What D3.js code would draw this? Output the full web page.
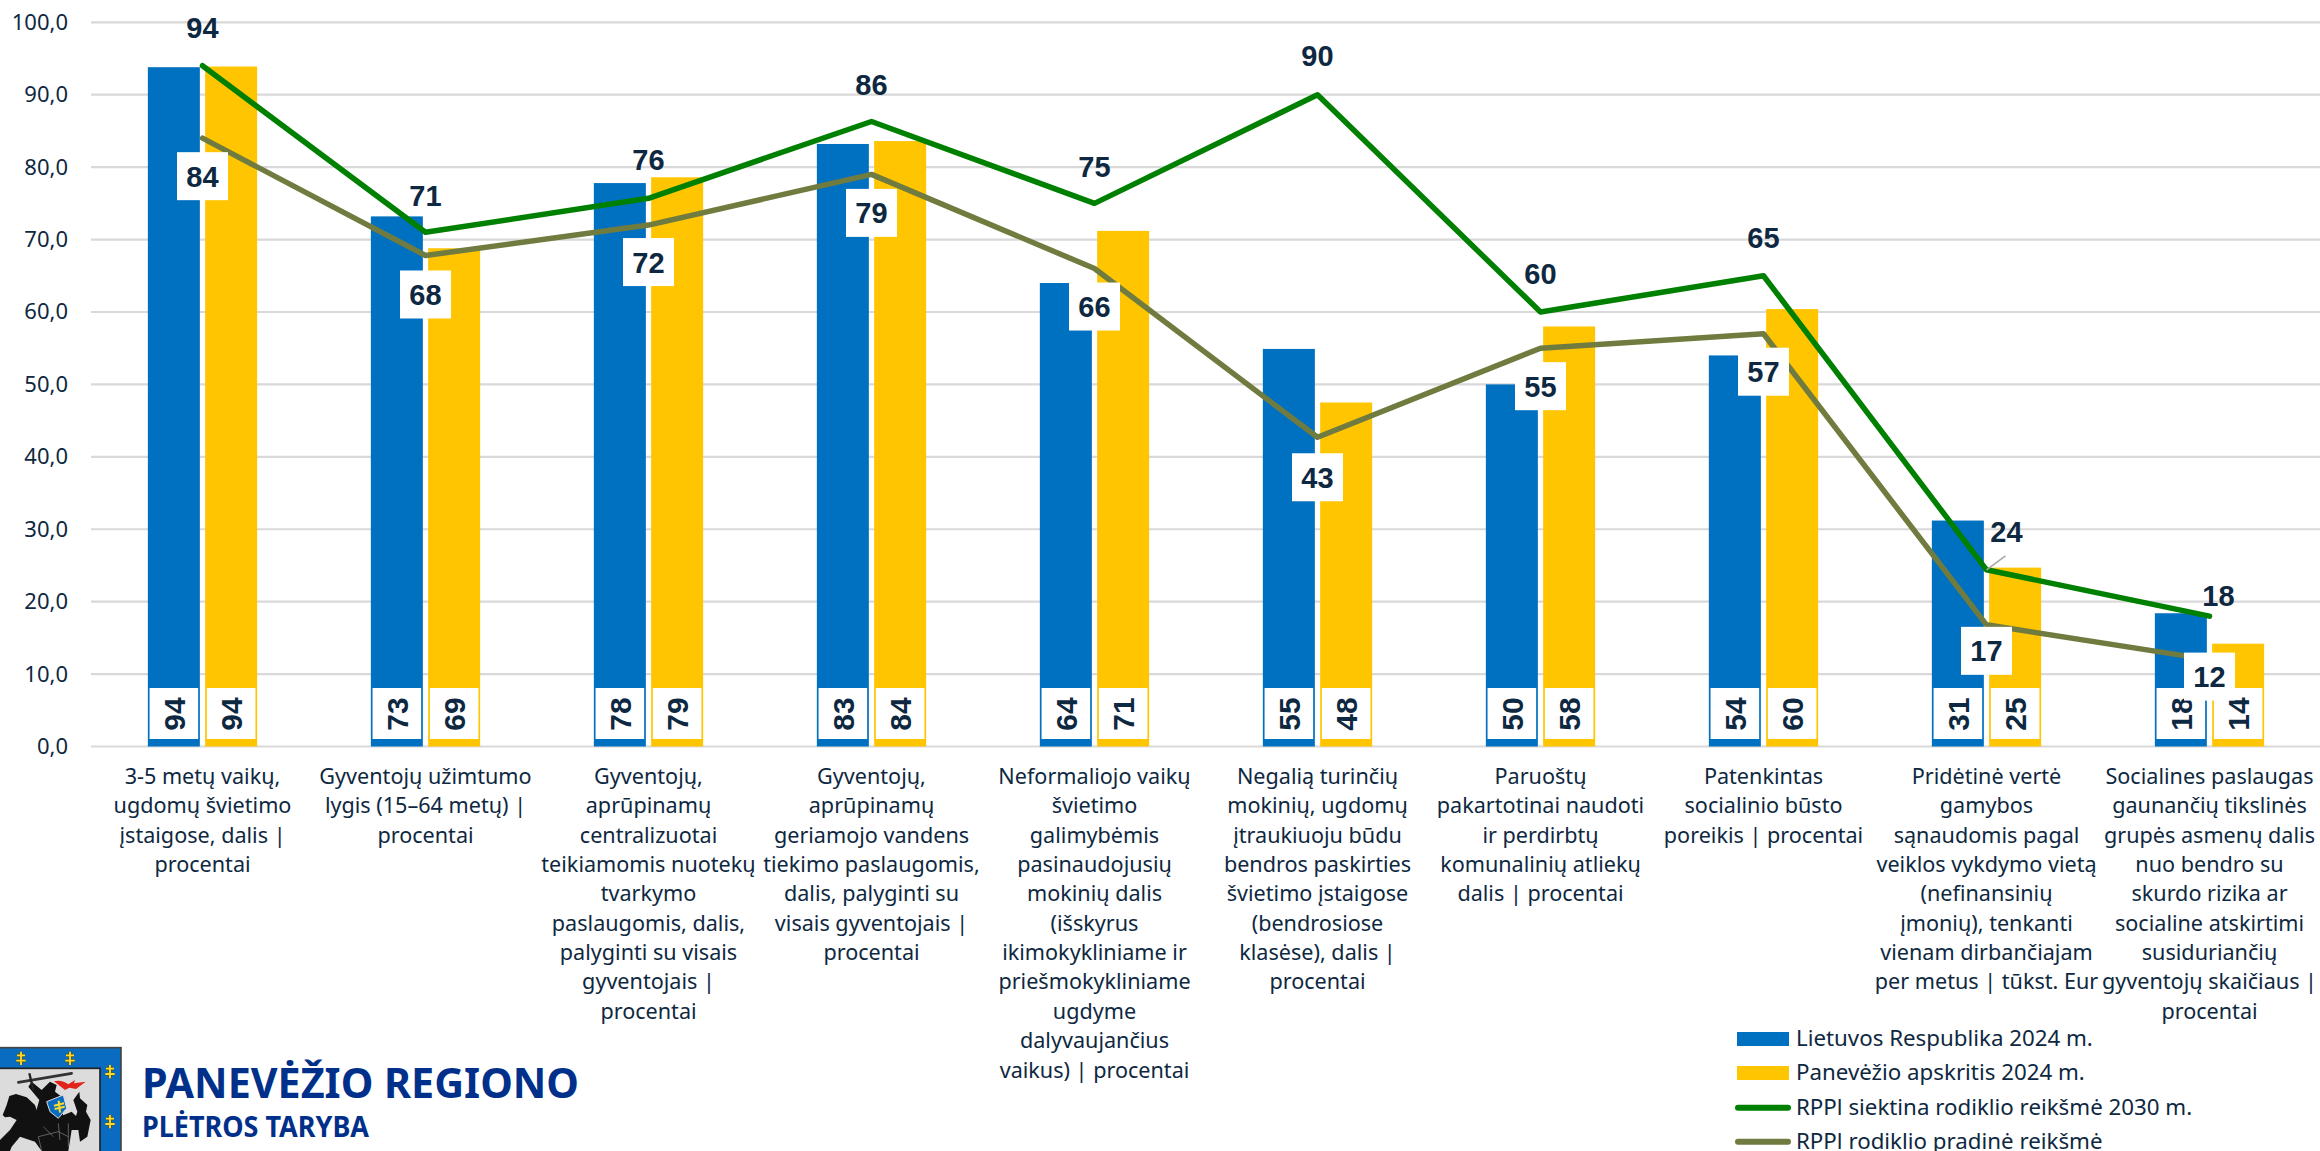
<!DOCTYPE html>
<html><head><meta charset="utf-8">
<script src="https://cdn.jsdelivr.net/npm/d3@7"></script>
<style>html,body{margin:0;padding:0;background:#fff}svg{display:block}text{font-family:"Noto Sans",sans-serif;fill:#0e2841}.b{font-family:"Liberation Sans",Arial,sans-serif;font-weight:700}</style>
</head><body><svg id="c" width="2320" height="1151"></svg>
<script>
const categories = [
 ["3-5 metų vaikų,","ugdomų švietimo","įstaigose, dalis |","procentai"],
 ["Gyventojų užimtumo","lygis (15–64 metų) |","procentai"],
 ["Gyventojų,","aprūpinamų","centralizuotai","teikiamomis nuotekų","tvarkymo","paslaugomis, dalis,","palyginti su visais","gyventojais |","procentai"],
 ["Gyventojų,","aprūpinamų","geriamojo vandens","tiekimo paslaugomis,","dalis, palyginti su","visais gyventojais |","procentai"],
 ["Neformaliojo vaikų","švietimo","galimybėmis","pasinaudojusių","mokinių dalis","(išskyrus","ikimokykliniame ir","priešmokykliniame","ugdyme","dalyvaujančius","vaikus) | procentai"],
 ["Negalią turinčių","mokinių, ugdomų","įtraukiuoju būdu","bendros paskirties","švietimo įstaigose","(bendrosiose","klasėse), dalis |","procentai"],
 ["Paruoštų","pakartotinai naudoti","ir perdirbtų","komunalinių atliekų","dalis | procentai"],
 ["Patenkintas","socialinio būsto","poreikis | procentai"],
 ["Pridėtinė vertė","gamybos","sąnaudomis pagal","veiklos vykdymo vietą","(nefinansinių","įmonių), tenkanti","vienam dirbančiajam","per metus | tūkst. Eur"],
 ["Socialines paslaugas","gaunančių tikslinės","grupės asmenų dalis","nuo bendro su","skurdo rizika ar","socialine atskirtimi","susiduriančių","gyventojų skaičiaus |","procentai"]
];
const lietuva   = [93.8,73.2,77.8,83.2,64,54.9,50,54,31.2,18.4];
const panevezys = [93.9,68.8,78.6,83.6,71.2,47.5,58,60.4,24.7,14.2];
const siektina  = [94,71,75.7,86.3,75,90,60,65,24.4,18];
const pradine   = [84,67.8,72,79,66,42.7,55,57,16.8,12];
const yTicks = [0,10,20,30,40,50,60,70,80,90,100];
const legendItems = ["Lietuvos Respublika 2024 m.","Panevėžio apskritis 2024 m.","RPPl siektina rodiklio reikšmė 2030 m.","RPPl rodiklio pradinė reikšmė"];
const targetLabelDx = [0,0,0,0,0,0,0,0,20,9];
const targetLabelDy = [-38,-37,-39,-37,-37,-39,-38,-38,-38,-21];
const startLabelDy  = [38,39,37,38.5,38,40,38,38,26,17];

const colors={blue:"#0070c0",yellow:"#ffc500",green:"#008000",olive:"#707c3f",grid:"#d9d9d9",title:"#00308a"};
const svg=d3.select("#c");
const x=d3.scaleBand().domain(d3.range(10)).range([91,2321]);
const y=d3.scaleLinear().domain([0,100]).range([746.5,22.3]);
const BW=52,GAP=5.3;
const cx=i=>x(i)+x.bandwidth()/2;
const fmt=v=>d3.format(".1f")(v).replace(".",",");

svg.append("g").selectAll("line").data(yTicks).join("line")
 .attr("x1",91).attr("x2",2320).attr("y1",d=>y(d)).attr("y2",d=>y(d)).attr("stroke",colors.grid).attr("stroke-width",2.2);
svg.append("g").selectAll("text").data(yTicks).join("text")
 .attr("x",68).attr("y",d=>y(d)+7.5).attr("text-anchor","end").attr("font-size",22).text(fmt);

const series=[{v:lietuva,c:colors.blue,o:-1},{v:panevezys,c:colors.yellow,o:1}];
series.forEach(s=>{
 const g=svg.append("g");
 const bx=i=>s.o<0?cx(i)-GAP/2-BW:cx(i)+GAP/2;
 g.selectAll("rect").data(s.v).join("rect").attr("x",(d,i)=>bx(i)).attr("width",BW).attr("y",d=>y(d)).attr("height",d=>y(0)-y(d)).attr("fill",s.c);
 g.selectAll(".w").data(s.v).join("rect").attr("class","w").attr("x",(d,i)=>bx(i)+1.7).attr("width",BW-3.4).attr("y",688).attr("height",51).attr("fill","#fff");
 g.selectAll("text").data(s.v).join("text").attr("class","b")
  .attr("transform",(d,i)=>`translate(${bx(i)+BW/2+11},714) rotate(-90)`)
  .attr("text-anchor","middle").attr("font-size",30).text(d=>Math.round(d));
});

const line=d3.line().x((d,i)=>cx(i)).y(d=>y(d));
[[pradine,colors.olive],[siektina,colors.green]].forEach(([v,c])=>{
 svg.append("path").attr("d",line(v)).attr("fill","none").attr("stroke",c).attr("stroke-width",5.5).attr("stroke-linecap","round").attr("stroke-linejoin","round");
});
svg.append("line").attr("x1",cx(8)).attr("y1",y(siektina[8])).attr("x2",cx(8)+19).attr("y2",y(siektina[8])-14).attr("stroke","#a6a6a6").attr("stroke-width",1.5);

const gs=svg.append("g");
pradine.forEach((d,i)=>{
 const cy=y(d)+startLabelDy[i];
 gs.append("rect").attr("x",cx(i)-25.5).attr("y",cy-24).attr("width",51).attr("height",48).attr("fill","#fff");
 gs.append("text").attr("class","b").attr("x",cx(i)).attr("y",cy+10.5).attr("text-anchor","middle").attr("font-size",29).text(Math.round(d));
});
siektina.forEach((d,i)=>{
 svg.append("text").attr("class","b").attr("x",cx(i)+targetLabelDx[i]).attr("y",y(d)+targetLabelDy[i]+10.5).attr("text-anchor","middle").attr("font-size",29).text(Math.round(d));
});

const cg=svg.append("g");
categories.forEach((ls,i)=>{
 const t=cg.append("text").attr("text-anchor","middle").attr("font-size",21.6);
 ls.forEach((s,k)=>t.append("tspan").attr("x",cx(i)).attr("y",784+k*29.35).text(s));
});

const ly=[1039,1073,1107.7,1141.7];
legendItems.forEach((s,i)=>{
 if(i<2) svg.append("rect").attr("x",1737).attr("y",ly[i]-7).attr("width",52).attr("height",14).attr("fill",i?colors.yellow:colors.blue);
 else svg.append("line").attr("x1",1738).attr("x2",1788).attr("y1",ly[i]).attr("y2",ly[i]).attr("stroke",i==2?colors.green:colors.olive).attr("stroke-width",6).attr("stroke-linecap","round");
 svg.append("text").attr("x",1796).attr("y",ly[i]+7).attr("font-size",22.3).text(s);
});

svg.append("text").attr("x",142).attr("y",1098).attr("font-size",42).attr("font-weight",700).attr("textLength",437).attr("lengthAdjust","spacingAndGlyphs").style("fill",colors.title).text("PANEVĖŽIO REGIONO");
svg.append("text").attr("x",142).attr("y",1137).attr("font-size",29).attr("font-weight",700).attr("textLength",227).attr("lengthAdjust","spacingAndGlyphs").style("fill",colors.title).text("PLĖTROS TARYBA");

const logo=svg.append("g").attr("transform","translate(0,1040) scale(.3333)");
logo.append("rect").attr("x",-10).attr("y",23).attr("width",373).attr("height",330).attr("fill","#0a6cc0").attr("stroke","#444").attr("stroke-width",5);
logo.append("rect").attr("x",-10).attr("y",85).attr("width",310).attr("height",260).attr("fill","#dcdcdc").attr("stroke","#222").attr("stroke-width",5);
[[63,55],[210,55],[330,95],[330,245]].forEach(([a,b])=>{
 logo.append("path").attr("d",`M${a} ${b-20}V${b+20}M${a-12} ${b-9}H${a+12}M${a-14} ${b+7}H${a+14}`).attr("stroke","#5a5200").attr("stroke-width",9).attr("fill","none");
 logo.append("path").attr("d",`M${a} ${b-20}V${b+20}M${a-12} ${b-9}H${a+12}M${a-14} ${b+7}H${a+14}`).attr("stroke","#ffd92e").attr("stroke-width",5.5).attr("fill","none");
});
logo.append("path").attr("d","M8 225L20 195L28 168L48 162L80 172L105 195L118 235L160 238L215 215L228 228L232 215L220 180L238 155L240 175L262 195L258 215L272 240L262 290L240 305L235 270L215 270L205 333L125 333L105 305L60 290L35 320L30 333L0 333L0 300L30 270L50 240L30 230L15 232Z").attr("fill","#111");
logo.append("path").attr("d","M125 150L150 125L170 135L165 155L185 170L190 235L135 265L105 225L118 180L85 140L95 125Z").attr("fill","#111");
logo.append("path").attr("d","M55 127L215 100").attr("stroke","#333").attr("stroke-width",8).attr("stroke-linecap","round");
logo.append("path").attr("d","M88 100L100 150").attr("stroke","#222").attr("stroke-width",7);
logo.append("path").attr("d","M162 124Q185 118 205 133L225 120L222 130L257 125L228 147L208 143L195 150Z").attr("fill","#e2231a");
logo.append("path").attr("d","M140 185L190 165L200 205L175 235L150 215Z").attr("fill","#0a6cc0").attr("stroke","#ddd").attr("stroke-width",3);
logo.append("path").attr("d","M176 182L180 218M162 197L192 190M164 207L194 200").attr("stroke","#ffd92e").attr("stroke-width",6).attr("fill","none");
logo.append("path").attr("d","M115 290L125 333M115 290L175 275L205 290M175 250L180 300M205 250L205 320M130 260L160 290").attr("stroke","#888").attr("stroke-width",2).attr("fill","none");
</script></body></html>
